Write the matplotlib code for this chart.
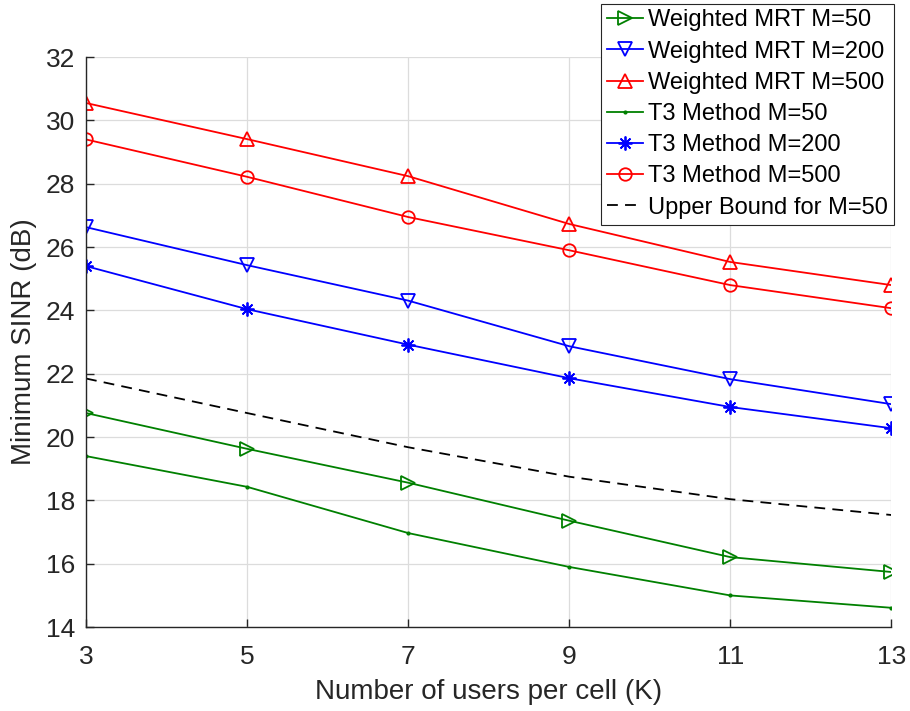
import matplotlib.pyplot as plt
import numpy as np

plt.rcParams['font.family'] = ['Liberation Sans', 'DejaVu Sans']

# users per cell
K = [3, 5, 7, 9, 11, 13]

# minimum SINR in dB
wmrt_50 = [20.76, 19.63, 18.56, 17.36, 16.21, 15.74]
wmrt_200 = [26.63, 25.43, 24.31, 22.87, 21.83, 21.04]
wmrt_500 = [30.55, 29.41, 28.24, 26.73, 25.53, 24.80]
t3_50 = [19.40, 18.43, 16.97, 15.90, 15.00, 14.61]
t3_200 = [25.40, 24.04, 22.92, 21.86, 20.95, 20.28]
t3_500 = [29.40, 28.22, 26.95, 25.90, 24.80, 24.07]
upper_50 = [21.85, 20.76, 19.68, 18.75, 18.04, 17.54]

green = '#008000'
blue = '#0000ff'
red = '#ff0000'

fig = plt.figure(figsize=(9.1, 7.11), dpi=100)
ax = fig.add_axes([0.0945, 0.118, 0.885, 0.8017])

lw = 1.3
ax.plot(K, wmrt_50, color=green, lw=lw, marker='>', ms=10, mfc='none', mew=1.3,
        label='Weighted MRT M=50')
ax.plot(K, wmrt_200, color=blue, lw=lw, marker='v', ms=10, mfc='none', mew=1.3,
        label='Weighted MRT M=200')
ax.plot(K, wmrt_500, color=red, lw=lw, marker='^', ms=10, mfc='none', mew=1.3,
        label='Weighted MRT M=500')
ax.plot(K, t3_50, color=green, lw=lw, marker='.', ms=4,
        label='T3 Method M=50')
ax.plot(K, t3_200, color=blue, lw=lw, marker=(8, 2, 0), ms=10, mew=1.3,
        label='T3 Method M=200')
ax.plot(K, t3_500, color=red, lw=lw, marker='o', ms=9, mfc='none', mew=1.3,
        label='T3 Method M=500')
ax.plot(K, upper_50, color='black', lw=lw, ls=(0, (6, 4)),
        label='Upper Bound for M=50')

ax.set_xlim(3, 13)
ax.set_ylim(14, 32)
ax.set_xticks(K)
ax.set_yticks(np.arange(14, 33, 2))
ax.grid(True, color='#dcdcdc', lw=0.9)
ax.set_axisbelow(True)

for side in ['top', 'right']:
    ax.spines[side].set_visible(False)
for side in ['left', 'bottom']:
    ax.spines[side].set_color('#262626')
    ax.spines[side].set_linewidth(1.0)
ax.tick_params(direction='in', length=6, width=1.0, colors='#262626',
               labelsize=19)
ax.tick_params(axis='x', pad=13)
ax.tick_params(axis='y', pad=8)

ax.set_xlabel('Number of users per cell (K)', fontsize=20, color='#262626', labelpad=7)
ax.set_ylabel('Minimum SINR (dB)', fontsize=20, color='#262626', labelpad=6)

leg = fig.legend(loc='upper right', bbox_to_anchor=(0.982, 0.995), fontsize=17,
                 frameon=True, fancybox=False, framealpha=1, edgecolor='#262626',
                 handlelength=1.55, handletextpad=0.2, labelspacing=0.39,
                 borderpad=0.25, borderaxespad=0)
leg.get_frame().set_linewidth(0.8)

fig.savefig('out.png', dpi=100)
